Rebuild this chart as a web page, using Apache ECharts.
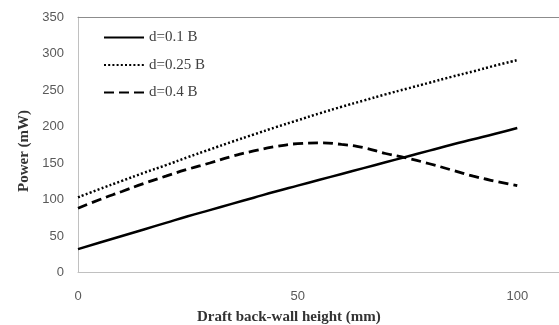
<!DOCTYPE html>
<html><head><meta charset="utf-8">
<script src="https://cdn.jsdelivr.net/npm/echarts@6/dist/echarts.min.js"></script>
<style>html,body{margin:0;padding:0;background:#fff}#c{width:559px;height:325px}</style>
</head><body><div id="c"></div>
<script>
var xValues = [0, 5, 10, 15, 20, 25, 30, 35, 40, 45, 50, 55, 60, 65, 70, 75, 80, 85, 90, 95, 100];
var seriesNames = ['d=0.1 B', 'd=0.25 B', 'd=0.4 B'];
var d01 = [32, 41, 50, 59, 68, 77, 85.5, 94, 102.5, 111, 119, 127, 135, 143, 151, 159, 167, 175, 182.5, 190, 198];
var d025 = [103, 114.5, 125.5, 136.5, 147, 158, 168.5, 179, 189, 199, 208.5, 218, 227, 235.5, 244, 252, 260, 268, 275.5, 283.5, 291];
var d04 = [88, 100, 111, 122, 132, 141.5, 150, 159, 166.5, 172.5, 176.5, 177.5, 175.5, 171, 163, 156.5, 149, 140.5, 132, 125, 119];
var xTicks = [0, 50, 100];
var yTicks = [0, 50, 100, 150, 200, 250, 300, 350];

function pairs(v){ return xValues.map(function(x,i){ return [x, v[i]]; }); }

var chart = echarts.init(document.getElementById('c'), null, {renderer:'canvas'});
chart.setOption({
  animation: false,
  grid: {left: 78, top: 17, bottom: 52.5, right: 0, show: false},
  legend: {
    orient: 'vertical', left: 98, top: 25, itemWidth: 40, itemHeight: 14, itemGap: 12.5,
    data: seriesNames,
    itemStyle: {opacity: 0},
    textStyle: {fontFamily: 'Liberation Serif', fontSize: 15, color: '#404040'}
  },
  xAxis: [{
    type: 'value', min: 0, max: 109.5, interval: 50,
    axisLine: {show: true, lineStyle: {color: '#c0c0c0', width: 1}},
    axisTick: {show: false}, splitLine: {show: false},
    axisLabel: {show: true, showMaxLabel: false, margin: 17, fontFamily: 'Liberation Sans', fontSize: 13, color: '#595959',
      formatter: function(v){ return xTicks.indexOf(v) >= 0 ? String(v) : ''; }}
  }, {
    type: 'value', min: 0, max: 109.5, position: 'top',
    axisLine: {show: true, lineStyle: {color: '#8c8c8c', width: 1}},
    axisTick: {show: false}, splitLine: {show: false}, axisLabel: {show: false}
  }],
  yAxis: {
    type: 'value', min: 0, max: 350, interval: 50,
    axisLine: {show: true, lineStyle: {color: '#c0c0c0', width: 1}},
    axisTick: {show: false}, splitLine: {show: false},
    axisLabel: {margin: 14, fontFamily: 'Liberation Sans', fontSize: 13, color: '#595959',
      formatter: function(v){ return yTicks.indexOf(v) >= 0 ? String(v) : ''; }}
  },
  graphic: [
    {type: 'text', left: 197, top: 310, style: {text: 'Draft back-wall height (mm)', font: 'bold 15px "Liberation Serif"', fill: '#333'}},
    {type: 'text', x: 17, y: 151, rotation: Math.PI/2, style: {text: 'Power (mW)', font: 'bold 15px "Liberation Serif"', fill: '#333', align: 'center', verticalAlign: 'top'}}
  ],
  series: [
    {name: seriesNames[0], type: 'line', data: pairs(d01), smooth: true, symbol: 'none',
      lineStyle: {color: '#000', width: 2.5, type: 'solid'}, itemStyle: {color: '#000'}},
    {name: seriesNames[1], type: 'line', data: pairs(d025), smooth: true, symbol: 'none',
      lineStyle: {color: '#000', width: 2.5, type: [2, 2.2]}, itemStyle: {color: '#000'}},
    {name: seriesNames[2], type: 'line', data: pairs(d04), smooth: true, symbol: 'none',
      lineStyle: {color: '#000', width: 2.8, type: [10, 5]}, itemStyle: {color: '#000'}}
  ]
});
</script></body></html>
